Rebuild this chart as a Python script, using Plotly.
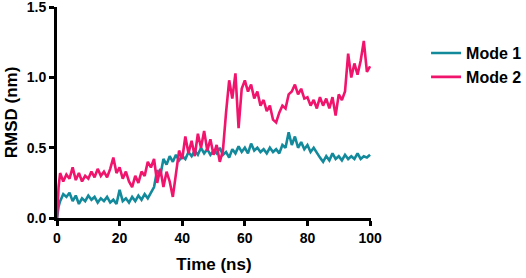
import plotly.graph_objects as go

time_ns = [0, 0.5] + list(range(1, 101))

mode1 = [0.00, 0.08, 0.12, 0.17, 0.15, 0.18, 0.12, 0.16, 0.10, 0.14, 0.12, 0.16,
         0.13, 0.15, 0.11, 0.14, 0.12, 0.15, 0.11, 0.13, 0.10, 0.20,
         0.12, 0.14, 0.11, 0.15, 0.12, 0.16, 0.13, 0.17, 0.14, 0.18,
         0.22, 0.34, 0.30, 0.42, 0.38, 0.44, 0.40, 0.45, 0.41, 0.44,
         0.42, 0.47, 0.44, 0.48, 0.45, 0.50, 0.46, 0.49, 0.45, 0.48,
         0.46, 0.50, 0.45, 0.47, 0.43, 0.49, 0.46, 0.51, 0.47, 0.50,
         0.46, 0.53, 0.48, 0.50, 0.47, 0.49, 0.46, 0.50, 0.47, 0.49,
         0.46, 0.52, 0.50, 0.61, 0.52, 0.58, 0.50, 0.54, 0.49, 0.52,
         0.47, 0.50, 0.46, 0.43, 0.40, 0.44, 0.41, 0.46, 0.42, 0.44,
         0.41, 0.45, 0.42, 0.44, 0.42, 0.46, 0.42, 0.44, 0.43, 0.45]

mode2 = [0.00, 0.22, 0.32, 0.26, 0.31, 0.28, 0.36, 0.27, 0.32, 0.26, 0.30, 0.28,
         0.33, 0.29, 0.35, 0.30, 0.33, 0.29, 0.35, 0.43, 0.32, 0.36,
         0.28, 0.33, 0.26, 0.22, 0.30, 0.25, 0.33, 0.30, 0.40, 0.36,
         0.42, 0.25, 0.35, 0.22, 0.33, 0.26, 0.15, 0.30, 0.48, 0.42,
         0.58, 0.46, 0.55, 0.44, 0.60, 0.50, 0.62, 0.48, 0.56, 0.45,
         0.52, 0.40, 0.48, 0.75, 0.98, 0.85, 1.03, 0.64, 0.92, 0.98,
         0.90, 0.95, 0.85, 0.90, 0.80, 0.84, 0.76, 0.80, 0.70, 0.68,
         0.75, 0.80, 0.78, 0.88, 0.90, 0.95, 0.88, 0.92, 0.85, 0.86,
         0.80, 0.84, 0.78, 0.86, 0.80, 0.85, 0.78, 0.86, 0.73, 0.88,
         0.84, 0.90, 1.17, 1.00, 1.10, 1.02, 1.12, 1.26, 1.04, 1.08]

series_names = ["Mode 1", "Mode 2"]
colors = ["#138a9c", "#f0146c"]

fig = go.Figure()
for name, vals, col in zip(series_names, [mode1, mode2], colors):
    fig.add_trace(go.Scatter(x=time_ns, y=vals, mode="lines", name=name,
                             line=dict(color=col, width=2.6), cliponaxis=True))

font_family = "Liberation Sans, Arial, sans-serif"
axis_common = dict(showline=True, linecolor="black", linewidth=3,
                   ticks="outside", ticklen=5, tickwidth=3, tickcolor="black",
                   showgrid=False, zeroline=False, mirror=False,
                   ticklabeloverflow="allow",
                   tickfont=dict(family=font_family, size=14, color="black", weight="bold"))

fig.update_layout(
    width=526, height=278,
    margin=dict(l=57, r=155, t=7, b=60),
    paper_bgcolor="white", plot_bgcolor="white",
    font=dict(family=font_family, color="black"),
    xaxis=dict(range=[0, 100.3], tickvals=[0, 20, 40, 60, 80, 100], automargin="bottom",
               title=dict(text="<b>Time (ns)</b>", font=dict(size=17), standoff=14),
               **axis_common),
    yaxis=dict(range=[0, 1.502], tickvals=[0, 0.5, 1.0, 1.5], tickformat=".1f",
               automargin="left",
               title=dict(text="<b>RMSD (nm)</b>", font=dict(size=17), standoff=5),
               **axis_common),
    legend=dict(xref="container", yref="container", x=0.81, y=0.87,
                xanchor="left", yanchor="top",
                font=dict(size=16, weight="bold"), bgcolor="rgba(0,0,0,0)",
                tracegroupgap=0),
    showlegend=True,
)

fig.write_html("out.html", config={"displayModeBar": False},
               post_script="document.body.style.margin='0';document.body.style.padding='0';")
